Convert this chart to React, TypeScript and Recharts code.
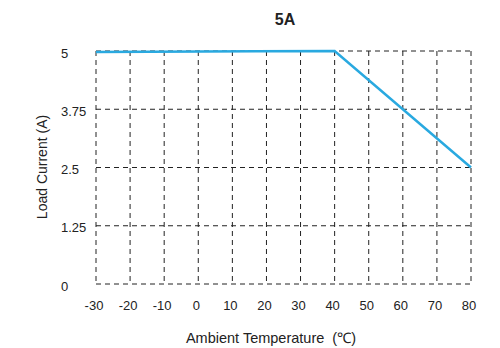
import React from "react";
import { LineChart, Line, XAxis, YAxis, CartesianGrid, Label } from "recharts";

const temps = [-30, 40, 80];
const current = [4.98, 5, 2.5];
const xTicks = [-30, -20, -10, 0, 10, 20, 30, 40, 50, 60, 70, 80];
const yTicks = [0, 1.25, 2.5, 3.75, 5];

const data = temps.map((t, i) => ({ t, a: current[i] }));

const font = "'Liberation Sans', Arial, sans-serif";

const XTick = (props: any) => {
  const { x, payload } = props;
  return (
    <text x={x - 2} y={305} dy="0.35em" textAnchor="middle" fontSize={13} fill="#222" fontFamily={font}>
      {payload.value}
    </text>
  );
};

const YTick = (props: any) => {
  const { y, payload } = props;
  return (
    <text x={61} y={y + 2} dy="0.35em" textAnchor="start" fontSize={13} fill="#222" fontFamily={font}>
      {payload.value}
    </text>
  );
};

export default function App() {
  return (
    <div style={{ position: "absolute", left: 0, top: 0, width: 500, height: 348, background: "#fff", fontFamily: font }}>
      <div style={{ position: "absolute", left: 0, width: 570, top: 10, textAlign: "center", fontSize: 16, fontWeight: "bold", color: "#222", lineHeight: "20px" }}>
        5A
      </div>
      <div style={{ position: "absolute", left: 0, width: 542, top: 329, textAlign: "center", fontSize: 14.5, color: "#222", lineHeight: "18px" }}>
        Ambient Temperature&nbsp;&nbsp;(℃)
      </div>
      <LineChart width={500} height={348} data={data} margin={{ top: 51, right: 29, left: 0, bottom: 0 }}>
        <CartesianGrid stroke="#222" strokeDasharray="5 4" vertical horizontal />
        <XAxis
          dataKey="t"
          type="number"
          domain={[-30, 80]}
          ticks={xTicks}
          axisLine={false}
          tickLine={false}
          height={64}
          tick={<XTick />}
          interval={0}
        />
        <YAxis
          type="number"
          domain={[0, 5]}
          ticks={yTicks}
          axisLine={false}
          tickLine={false}
          width={96}
          tick={<YTick />}
          interval={0}
        >
          <Label
            content={() => (
              <text
                x={42}
                y={167}
                transform="rotate(-90 42 167)"
                textAnchor="middle"
                dominantBaseline="central"
                fontSize={14}
                fill="#222"
                fontFamily={font}
              >
                Load Current (A)
              </text>
            )}
          />
        </YAxis>
        <Line
          dataKey="a"
          stroke="#29a9e0"
          strokeWidth={2.5}
          dot={false}
          isAnimationActive={false}
        />
      </LineChart>
    </div>
  );
}
